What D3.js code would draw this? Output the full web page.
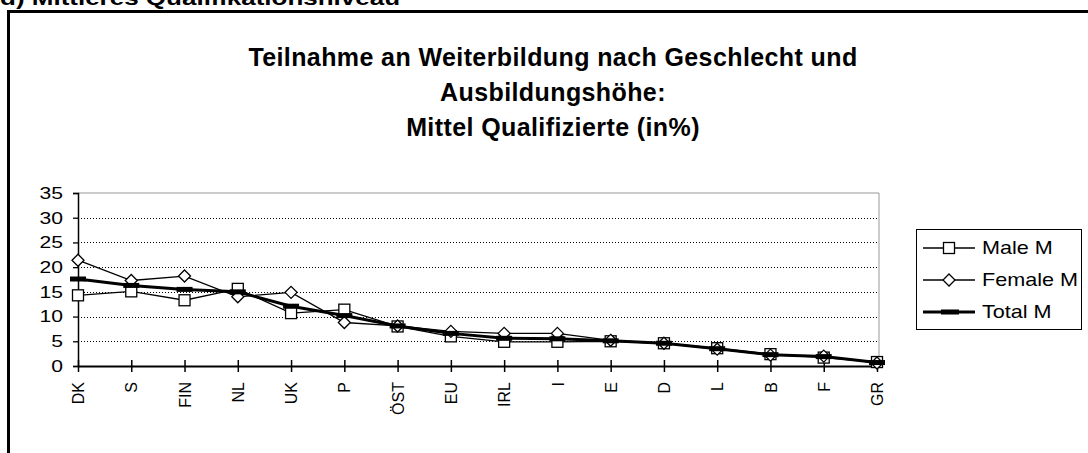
<!DOCTYPE html>
<html>
<head>
<meta charset="utf-8">
<title></title>
<script src="https://cdnjs.cloudflare.com/ajax/libs/d3/7.8.5/d3.min.js"></script>
<style>
body { margin: 0; background: #fff; }
text { font-family: "Liberation Sans", Arial, sans-serif; fill: #000; }
</style>
</head>
<body>
<div id="chart"></div>
<script>
    // data
    var countries = ['DK', 'S', 'FIN', 'NL', 'UK', 'P', 'ÖST', 'EU', 'IRL', 'I', 'E', 'D', 'L', 'B', 'F', 'GR'];
    var maleM   = [14.3, 15.1, 13.3, 15.6, 10.7, 11.4, 8.0, 6.0, 4.9, 4.9, 5.0, 4.6, 3.6, 2.4, 1.7, 0.8];
    var femaleM = [21.4, 17.3, 18.2, 14.0, 14.9, 8.8, 8.1, 7.0, 6.6, 6.6, 5.2, 4.6, 3.4, 2.2, 2.0, 0.6];
    var totalM  = [17.6, 16.3, 15.5, 15.0, 12.1, 10.2, 8.1, 6.6, 5.6, 5.5, 5.1, 4.6, 3.5, 2.3, 1.9, 0.7];
    var yTicks = [0, 5, 10, 15, 20, 25, 30, 35];
    var titleLines = ['Teilnahme an Weiterbildung nach Geschlecht und', 'Ausbildungshöhe:', 'Mittel Qualifizierte (in%)'];
    var seriesNames = ['Male M', 'Female M', 'Total M'];

    var w = 1088, h = 453;
    var svg = d3.select('#chart').append('svg')
        .attr('width', w)
        .attr('height', h);

    // page heading, cut off at the top
    svg.append('text')
       .attr('x', 0)
       .attr('y', 5)
       .attr('font-size', '20px')
       .attr('font-weight', 'bold')
       .attr('transform', 'scale(1.3,1)')
       .text('d) Mittleres Qualifikationsniveau');

    // outer frame (only top and left are visible)
    svg.append('path')
       .attr('d', 'M8.5,' + h + 'V11.5H' + w)
       .attr('fill', 'none')
       .attr('stroke', '#000')
       .attr('stroke-width', 3);

    // title
    svg.selectAll('.title')
       .data(titleLines)
       .enter().append('text')
       .attr('class', 'title')
       .attr('x', 553)
       .attr('y', (d, i) => 66 + i * 35)
       .attr('text-anchor', 'middle')
       .attr('font-size', '25px')
       .attr('font-weight', 'bold')
       .attr('letter-spacing', '0.4px')
       .text(d => d);

    var x = d3.scalePoint().domain(countries).range([78, 877]);
    var y = d3.scaleLinear().domain([0, 35]).range([366, 193]);

    // plot area border (gray, top and right)
    svg.append('path')
       .attr('d', 'M78,' + y(35) + 'H879V' + y(0))
       .attr('fill', 'none')
       .attr('stroke', '#999')
       .attr('stroke-width', 1);

    // dotted gridlines
    svg.selectAll('.grid')
       .data(yTicks.filter(d => d > 0 && d < 35))
       .enter().append('line')
       .attr('class', 'grid')
       .attr('x1', 78).attr('x2', 879)
       .attr('y1', d => Math.round(y(d)) + 0.5)
       .attr('y2', d => Math.round(y(d)) + 0.5)
       .attr('stroke', '#000')
       .attr('stroke-width', 1)
       .attr('stroke-dasharray', '1,2');

    // y axis
    var yAxis = svg.append('g')
       .attr('transform', 'translate(78,0)')
       .call(d3.axisLeft(y).tickValues(yTicks).tickSize(5).tickPadding(10));
    yAxis.select('.domain').attr('stroke', '#000').attr('stroke-width', 1.5);
    yAxis.selectAll('.tick line').attr('stroke-width', 1.3);
    yAxis.selectAll('text')
       .attr('font-size', '16.5px')
       .attr('font-family', '"Liberation Sans", Arial, sans-serif')
       .attr('x', -15 / 1.28)
       .attr('transform', 'scale(1.28,1)');

    // x axis, ticks crossing the axis
    var xAxis = svg.append('g')
       .attr('transform', 'translate(0,' + y(0) + ')')
       .call(d3.axisBottom(x).tickSize(6).tickSizeOuter(0));
    xAxis.select('.domain').attr('stroke', '#000').attr('stroke-width', 2);
    xAxis.selectAll('.tick line').attr('y1', -6).attr('stroke-width', 1.5);
    xAxis.selectAll('text')
       .attr('font-size', '16px')
       .attr('font-family', '"Liberation Sans", Arial, sans-serif')
       .attr('transform', 'rotate(-90)')
       .attr('text-anchor', 'end')
       .attr('x', -16)
       .attr('y', 0)
       .attr('dy', '0.35em');

    var line = d3.line()
        .x((d, i) => x(countries[i]))
        .y(d => y(d));

    svg.append('path')
       .attr('d', line(maleM))
       .attr('fill', 'none').attr('stroke', '#000').attr('stroke-width', 1.3);
    svg.append('path')
       .attr('d', line(femaleM))
       .attr('fill', 'none').attr('stroke', '#000').attr('stroke-width', 1.3);
    svg.append('path')
       .attr('d', line(totalM))
       .attr('fill', 'none').attr('stroke', '#000').attr('stroke-width', 3);

    // markers
    svg.selectAll('.sq')
       .data(maleM)
       .enter().append('rect')
       .attr('class', 'sq')
       .attr('x', (d, i) => x(countries[i]) - 5.5)
       .attr('y', d => y(d) - 5.5)
       .attr('width', 11).attr('height', 11)
       .attr('fill', '#fff').attr('stroke', '#000').attr('stroke-width', 1.3);

    var diamond = 'M0,-6L6,0L0,6L-6,0Z';
    svg.selectAll('.dm')
       .data(femaleM)
       .enter().append('path')
       .attr('class', 'dm')
       .attr('transform', (d, i) => 'translate(' + x(countries[i]) + ',' + y(d) + ')')
       .attr('d', diamond)
       .attr('fill', '#fff').attr('stroke', '#000').attr('stroke-width', 1.3);

    svg.selectAll('.tm')
       .data(totalM)
       .enter().append('rect')
       .attr('class', 'tm')
       .attr('x', (d, i) => x(countries[i]) - 8)
       .attr('y', d => y(d) - 2.5)
       .attr('width', 16).attr('height', 5)
       .attr('fill', '#000');

    // legend
    var legend = svg.append('g').attr('transform', 'translate(916,229)');
    legend.append('rect')
       .attr('x', 0.5).attr('y', 0.5)
       .attr('width', 165).attr('height', 100)
       .attr('fill', '#fff').attr('stroke', '#000').attr('stroke-width', 1);

    var rows = legend.selectAll('.row')
       .data(seriesNames)
       .enter().append('g')
       .attr('class', 'row')
       .attr('transform', (d, i) => 'translate(0,' + (19 + i * 32) + ')');

    rows.append('line')
       .attr('x1', 7).attr('x2', 59)
       .attr('y1', 0).attr('y2', 0)
       .attr('stroke', '#000')
       .attr('stroke-width', (d, i) => i == 2 ? 3 : 1.3);

    rows.filter((d, i) => i == 0).append('rect')
       .attr('x', 27.5).attr('y', -5.5).attr('width', 11).attr('height', 11)
       .attr('fill', '#fff').attr('stroke', '#000').attr('stroke-width', 1.3);
    rows.filter((d, i) => i == 1).append('path')
       .attr('transform', 'translate(33,0)')
       .attr('d', diamond)
       .attr('fill', '#fff').attr('stroke', '#000').attr('stroke-width', 1.3);
    rows.filter((d, i) => i == 2).append('rect')
       .attr('x', 25).attr('y', -2.5).attr('width', 18).attr('height', 5)
       .attr('fill', '#000');

    rows.append('text')
       .attr('x', 66 / 1.2)
       .attr('y', 0)
       .attr('dy', '0.36em')
       .attr('font-size', '18px')
       .attr('transform', 'scale(1.2,1)')
       .text(d => d);
</script>
</body>
</html>
